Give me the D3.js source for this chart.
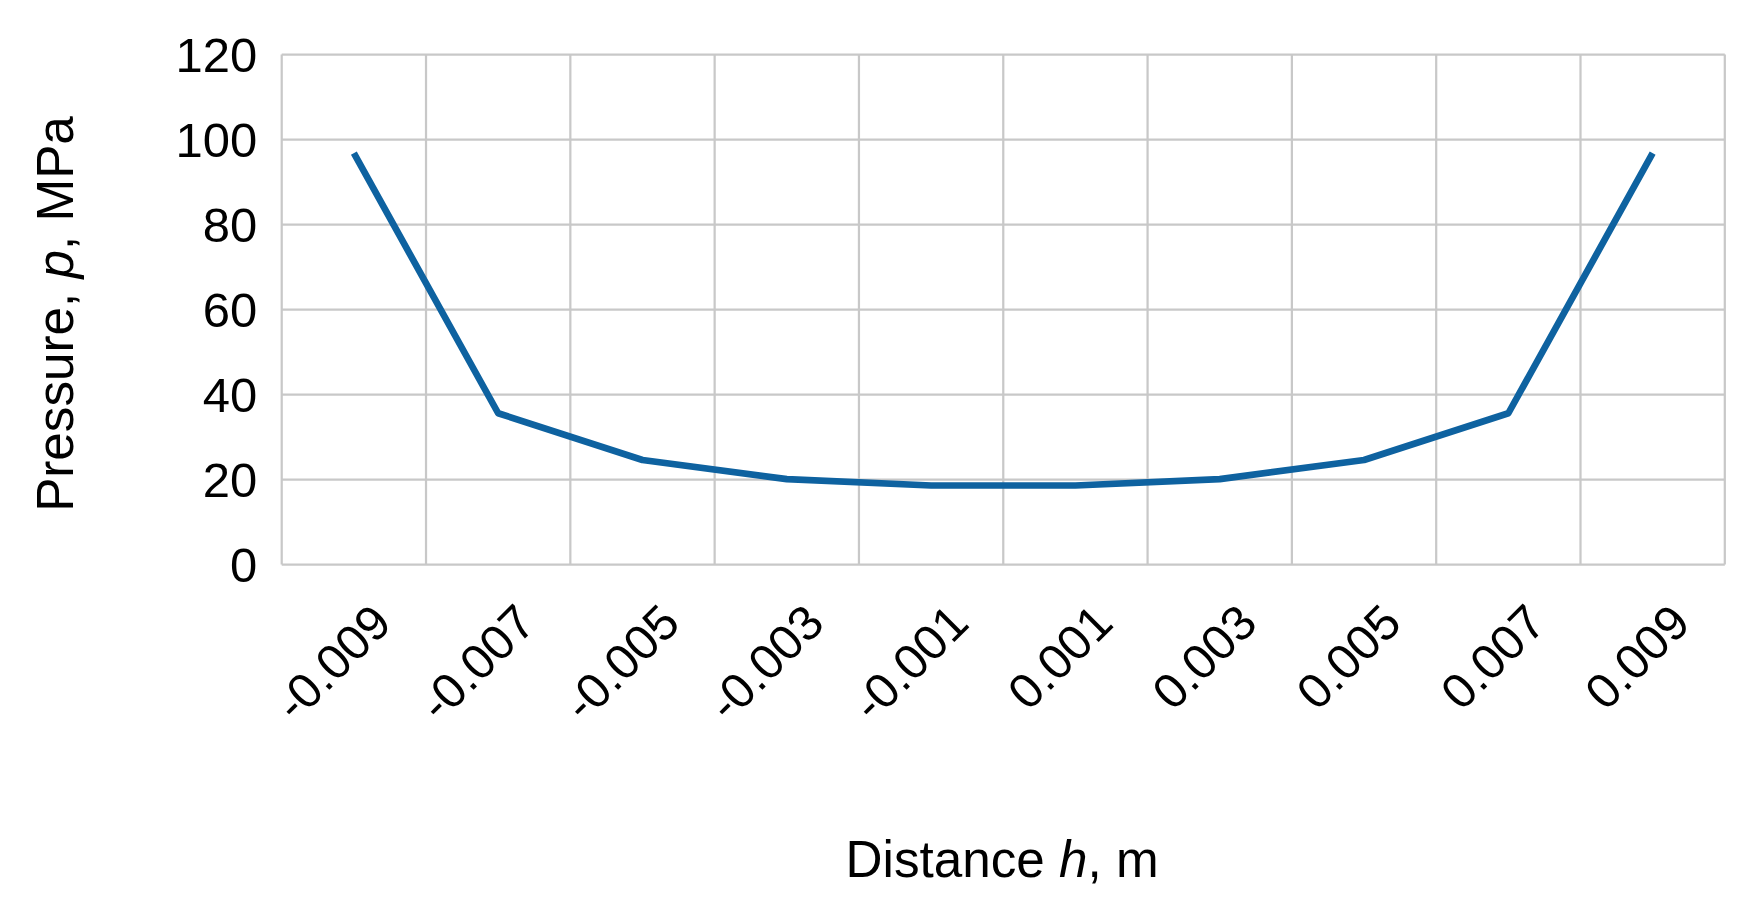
<!DOCTYPE html>
<html><head><meta charset="utf-8">
<script src="https://cdn.jsdelivr.net/npm/d3@7"></script>
<style>body{margin:0;background:#fff}</style></head>
<body><svg id="c" width="1747" height="913"></svg>
<script>
const categories=["-0.009","-0.007","-0.005","-0.003","-0.001","0.001","0.003","0.005","0.007","0.009"];
const pressure=[96.8,35.6,24.6,20.1,18.6,18.6,20.1,24.6,35.6,96.8];
const yTicks=[0,20,40,60,80,100,120];
const svg=d3.select("#c").append("g").attr("transform","scale(1.1135)");
const L=253,R=1549,T=49,B=507;
const x=d3.scaleBand().domain(categories).range([L,R]);
const y=d3.scaleLinear().domain([0,120]).range([B,T]);
const font="'Liberation Sans',Arial,sans-serif";
const g=svg.append("g");
yTicks.forEach(t=>g.append("line").attr("x1",L).attr("x2",R).attr("y1",y(t)).attr("y2",y(t)).attr("stroke","#c8c8c8").attr("stroke-width",2));
categories.concat([null]).forEach((c,i)=>{const xx=c===null?R:x(c);g.append("line").attr("x1",xx).attr("x2",xx).attr("y1",T).attr("y2",B).attr("stroke","#c8c8c8").attr("stroke-width",2);});
yTicks.forEach(t=>svg.append("text").attr("x",L-22).attr("y",y(t)).attr("dy","0.36em").attr("text-anchor","end").attr("font-family",font).attr("font-size",44).text(t));
categories.forEach(c=>{const cx=x(c)+x.bandwidth()/2+14,cy=540;svg.append("text").attr("transform",`translate(${cx},${cy}) rotate(-45)`).attr("text-anchor","end").attr("dy","0.7em").attr("font-family",font).attr("font-size",44).text(c);});
const line=d3.line().x((d,i)=>x(categories[i])+x.bandwidth()/2).y(d=>y(d));
svg.append("path").datum(pressure).attr("d",line).attr("fill","none").attr("stroke","#0e62a0").attr("stroke-width",6).attr("stroke-linejoin","round");
const xt=svg.append("text").attr("x",900).attr("y",788).attr("text-anchor","middle").attr("font-family",font).attr("font-size",46);
xt.append("tspan").text("Distance ");xt.append("tspan").attr("font-style","italic").text("h");xt.append("tspan").text(", m");
const yt=svg.append("text").attr("transform","translate(66,282) rotate(-90)").attr("text-anchor","middle").attr("font-family",font).attr("font-size",46);
yt.append("tspan").text("Pressure, ");yt.append("tspan").attr("font-style","italic").text("p");yt.append("tspan").text(", MPa");
</script></body></html>
